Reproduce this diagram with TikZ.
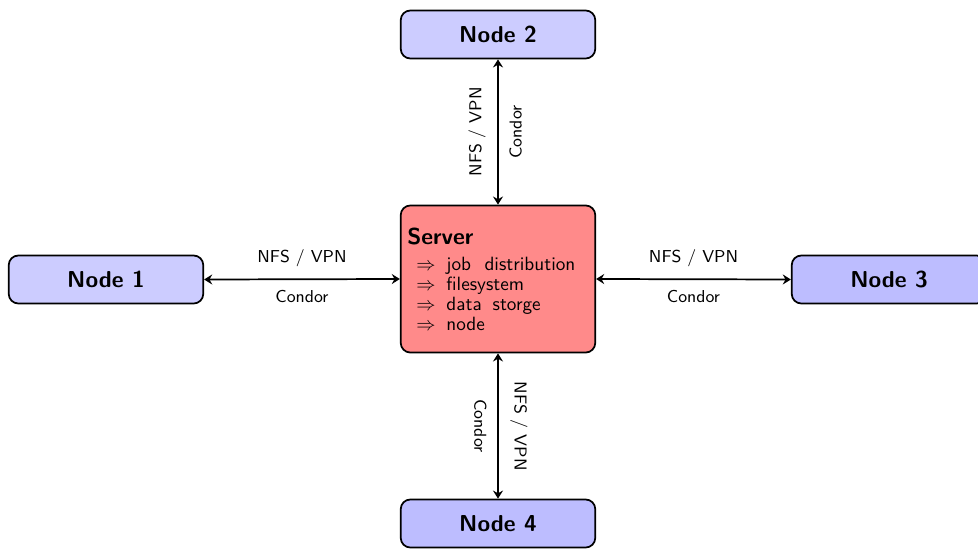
\documentclass[tikz,border=0pt]{standalone}
\usetikzlibrary{arrows.meta}

\definecolor{clientA}{RGB}{204,204,255}
\definecolor{clientB}{RGB}{189,189,255}
\definecolor{serverred}{RGB}{255,138,138}

\begin{document}
\begin{tikzpicture}[x=0.5208pt, y=-0.5208pt,
  client/.style={draw=black, line width=0.9pt, rounded corners=5pt,
    minimum width=101.3pt, minimum height=25pt, inner sep=0pt,
    font=\large\sffamily\bfseries},
  serverbox/.style={draw=black, line width=0.9pt, rounded corners=5pt,
    fill=serverred, minimum height=76.6pt, text width=94.5pt,
    inner sep=3.4pt, align=left, font=\sffamily},
  link/.style={line width=0.9pt,
    {Stealth[length=4.2pt,width=5.2pt,inset=1.4pt]}-{Stealth[length=4.2pt,width=5.2pt,inset=1.4pt]}},
  lab/.style={font=\small\sffamily, inner sep=0pt}
]
\useasboundingbox (0,0) rectangle (978,549);

% server in the middle
\node[serverbox] (server) at (498,279) {%
  {\large\bfseries Server}\\[1.5pt]
  \hspace*{4.8pt}$\Rightarrow$\hspace{5.6pt}job\hspace{7pt}distribution\\[-1.6pt]
  \hspace*{4.8pt}$\Rightarrow$\hspace{5.6pt}filesystem\\[-1.6pt]
  \hspace*{4.8pt}$\Rightarrow$\hspace{5.6pt}data\hspace{5.7pt}storge\\[-1.6pt]
  \hspace*{4.8pt}$\Rightarrow$\hspace{5.6pt}node};

% client nodes
\node[client, fill=clientA] (n1) at (106,279.5) {Node 1};
\node[client, fill=clientA] (n2) at (498,34.5) {Node 2};
\node[client, fill=clientB] (n3) at (889,279.5) {Node 3};
\node[client, fill=clientB] (n4) at (498,523.5) {Node 4};

% connections with their labels
\draw[link] (server.north) -- node[lab, sloped, above=6pt] {NFS / VPN}
                               node[lab, sloped, below=5.5pt] {Condor} (n2.south);
\draw[link] (server.south) -- node[lab, sloped, above=6pt] {NFS / VPN}
                               node[lab, sloped, below=5.5pt] {Condor} (n4.north);
\draw[link] (server.east) -- node[lab, above=6pt] {NFS / VPN}
                              node[lab, below=5.5pt] {Condor} (n3.west);
\draw[link] (n1.east) -- node[lab, above=6pt] {NFS / VPN}
                          node[lab, below=5.5pt] {Condor} (server.west);
\end{tikzpicture}
\end{document}
